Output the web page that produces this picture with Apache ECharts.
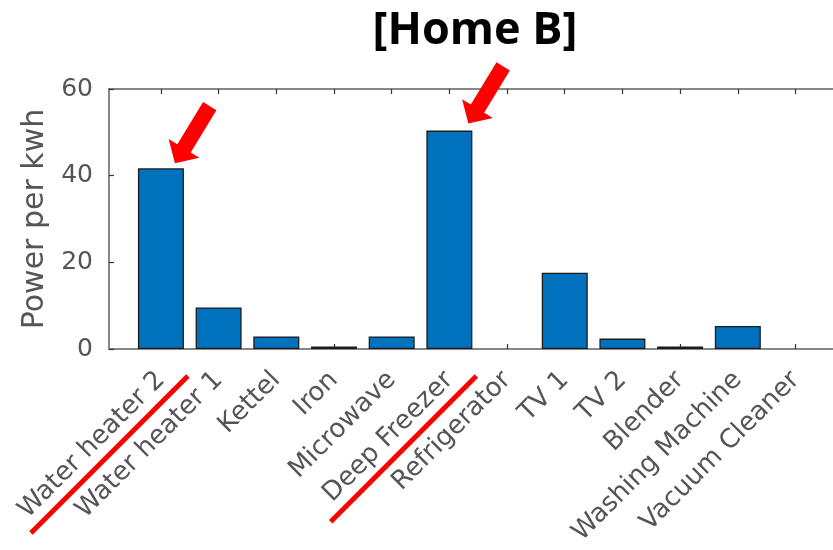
<!DOCTYPE html>
<html><head><meta charset="utf-8">
<script src="https://cdn.jsdelivr.net/npm/echarts@6/dist/echarts.min.js"></script>
<style>html,body{margin:0;padding:0;background:#fff}#c{width:833px;height:550px}</style>
</head><body><div id="c"></div>
<script>
const categories = ['Water heater 2','Water heater 1','Kettel','Iron','Microwave','Deep Freezer','Refrigerator','TV 1','TV 2','Blender','Washing Machine','Vacuum Cleaner'];
const powerValues = [41.7, 9.6, 2.9, 0.6, 2.9, 50.4, 0, 17.6, 2.4, 0.6, 5.3, 0];
const yTicks = [0, 20, 40, 60];
const highlighted = ['Water heater 2', 'Deep Freezer'];
const titleText = '[Home B]';
const yAxisName = 'Power per kwh';

// annotation styling (not data)
const underlineLengths = [222, 206];
const underlineEndOffset = [27, 27];
const arrowTipOffsets = [[14, -5], [19, -7]];

const idx = categories.map((_, i) => i);
const chart = echarts.init(document.getElementById('c'), null, {renderer: 'canvas'});
const labelFont = 'DejaVu Sans';
const axisLineStyle = {color: '#606060', width: 1.5};
const tickStyle = {color: '#333', width: 1.2};

chart.setOption({
  animation: false,
  backgroundColor: '#fff',
  title: {
    text: titleText, left: 470, top: 4, textAlign: 'center',
    textStyle: {fontFamily: 'Open Sans', fontWeight: 'bold', fontSize: 45, color: '#000'}
  },
  grid: {left: 109, right: 0, top: 89, bottom: 201, containLabel: false},
  xAxis: [{
    type: 'value', min: -0.9, max: 11.65, position: 'bottom',
    splitLine: {show: false},
    axisLine: {show: true, onZero: false, lineStyle: axisLineStyle},
    axisTick: {show: true, inside: true, length: 5, customValues: idx, lineStyle: tickStyle},
    axisLabel: {
      customValues: idx, formatter: v => categories[Math.round(v)] || '',
      rotate: 45, align: 'right', verticalAlign: 'middle', margin: 27,
      fontFamily: labelFont, fontSize: 26, color: '#555'
    }
  }, {
    type: 'value', min: -0.9, max: 11.65, position: 'top',
    splitLine: {show: false},
    axisLine: {show: true, onZero: false, lineStyle: axisLineStyle},
    axisTick: {show: true, inside: true, length: 5, customValues: idx, lineStyle: tickStyle},
    axisLabel: {show: false}
  }],
  yAxis: {
    type: 'value', min: yTicks[0], max: yTicks[yTicks.length - 1], interval: yTicks[1] - yTicks[0],
    splitLine: {show: false},
    axisLine: {show: true, onZero: false, lineStyle: axisLineStyle},
    axisTick: {show: true, inside: true, length: 5, lineStyle: tickStyle},
    axisLabel: {margin: 16, fontFamily: labelFont, fontSize: 25, color: '#555'},
    name: yAxisName, nameLocation: 'middle', nameGap: 58,
    nameTextStyle: {fontFamily: labelFont, fontSize: 30, color: '#555'}
  },
  series: [{
    type: 'bar', xAxisIndex: 0, yAxisIndex: 0,
    data: categories.map((c, i) => ({
      value: [i, powerValues[i]],
      itemStyle: powerValues[i] === 0 ? {borderWidth: 0} : undefined
    })),
    barWidth: 46,
    itemStyle: {color: '#0072BD', borderColor: '#1c1c1c', borderWidth: 1.3}
  }]
});

// red annotations positioned from the chart's own scales
const graphics = [];
const u = [-0.52, 0.854];      // arrow direction (towards tip)
const b = [-u[0], -u[1]];
const v = [0.854, 0.52];
function pt(T, along, across) {
  return [T[0] + along * b[0] + across * v[0], T[1] + along * b[1] + across * v[1]];
}
highlighted.forEach((name, k) => {
  const i = categories.indexOf(name);
  const top = chart.convertToPixel({xAxisIndex: 0, yAxisIndex: 0}, [i, powerValues[i]]);
  const off = arrowTipOffsets[k];
  const T = [top[0] + off[0], top[1] + off[1]];
  graphics.push({
    type: 'polygon', silent: true, z: 100,
    shape: {points: [T, pt(T, 17.5, 18), pt(T, 17.5, 7.8), pt(T, 67, 7.8), pt(T, 67, -7.8), pt(T, 17.5, -7.8), pt(T, 17.5, -18)]},
    style: {fill: '#ff0000'}
  });
  const base = chart.convertToPixel({xAxisIndex: 0, yAxisIndex: 0}, [i, 0]);
  const E = [base[0] + underlineEndOffset[0], base[1] + underlineEndOffset[1]];
  const L = underlineLengths[k];
  graphics.push({
    type: 'line', silent: true, z: 100,
    shape: {x1: E[0], y1: E[1], x2: E[0] - L * 0.7071, y2: E[1] + L * 0.7071},
    style: {stroke: '#ff0000', lineWidth: 5}
  });
});
chart.setOption({graphic: graphics});
</script>
</body></html>
